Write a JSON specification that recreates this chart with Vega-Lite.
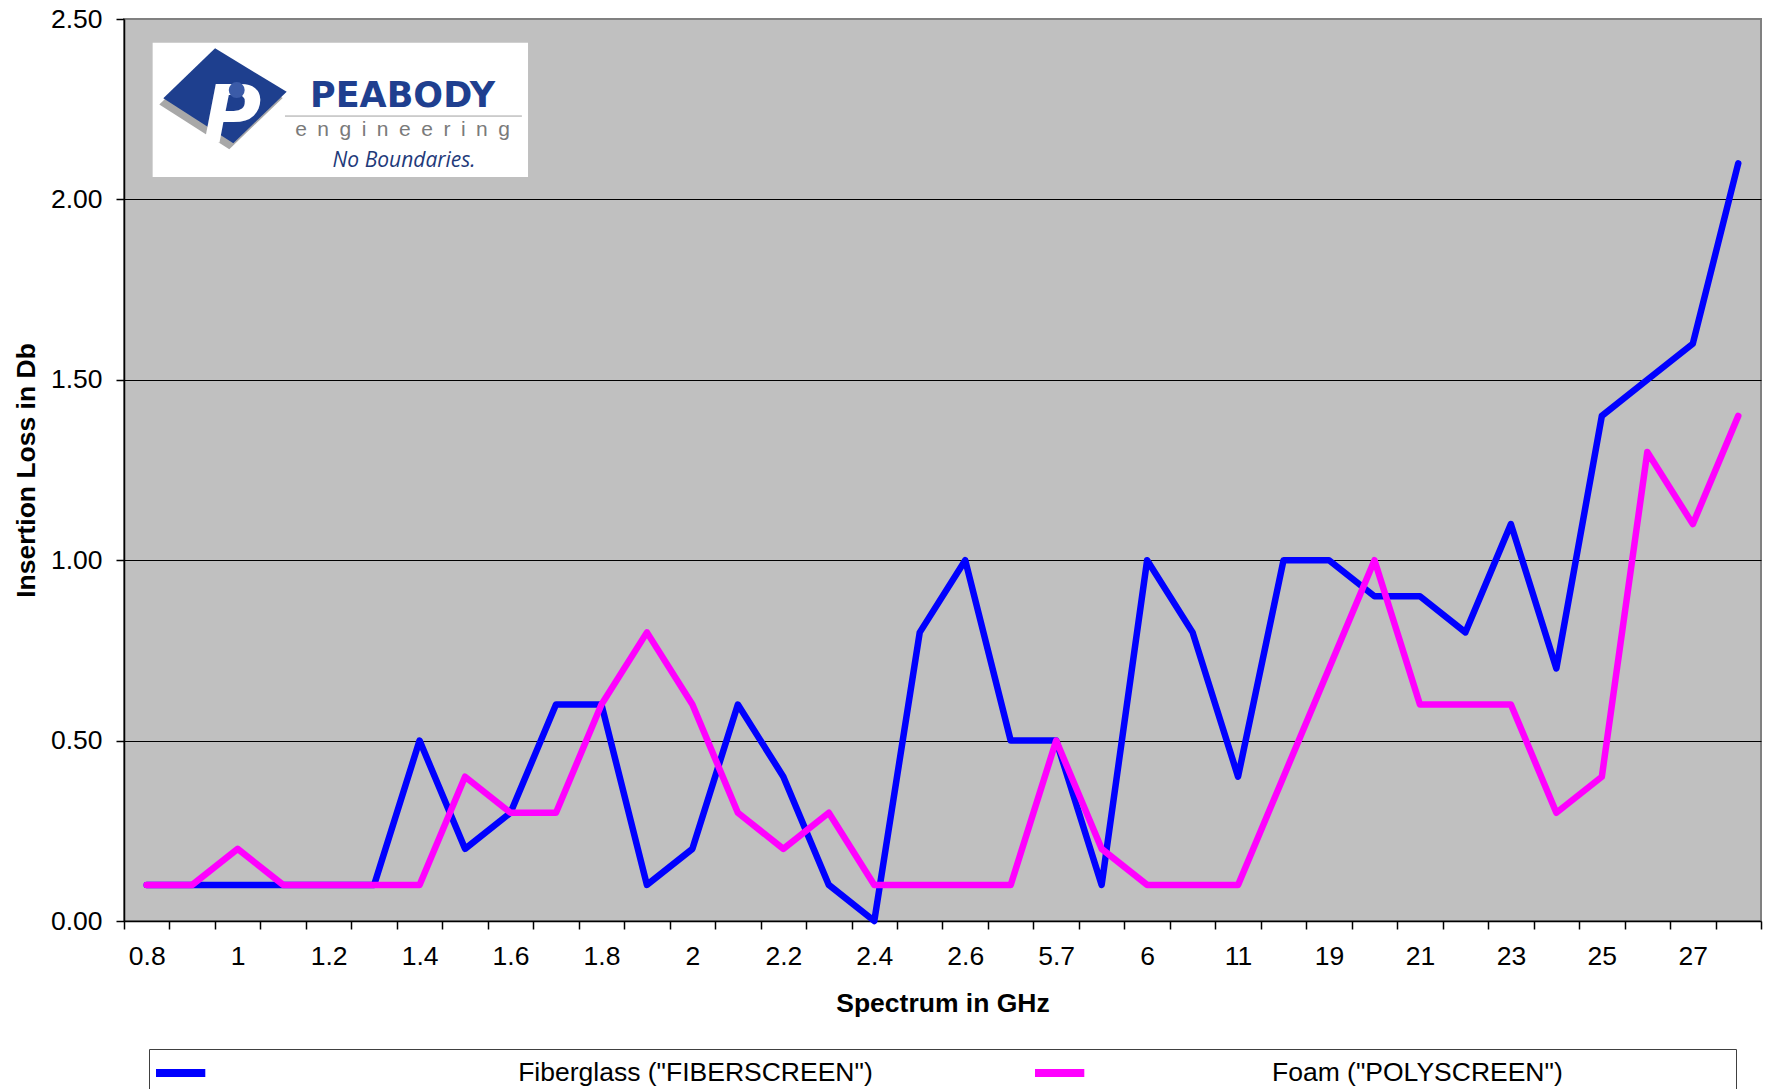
{
  "$schema": "https://vega.github.io/schema/vega-lite/v6.json",
  "width": 1637,
  "height": 902,
  "autosize": {"type": "none"},
  "padding": {"left": 124, "top": 19, "right": 8, "bottom": 168},
  "background": "white",
  "config": {
    "font": "Liberation Sans",
    "view": {"fill": "#C0C0C0", "stroke": "#808080", "strokeWidth": 2}
  },
  "resolve": {"scale": {"x": "independent"}},
  "layer": [
    {
      "data": {"values": [{}]},
      "mark": {"type": "rect", "fill": "white"},
      "encoding": {
        "x": {"datum": 0.63, "type": "quantitative", "scale": {"domain": [0, 36], "nice": false, "zero": false}, "axis": null},
        "x2": {"datum": 8.885},
        "y": {"datum": 2.434, "type": "quantitative"},
        "y2": {"datum": 2.062}
      }
    },
    {
      "data": {"values": [{}]},
      "mark": {"type": "point", "shape": "M -0.995 0.045 L -0.16 -0.76 L 0.995 -0.06 L 0.134 0.77 Z", "filled": true, "fill": "#A8A8A8", "opacity": 1, "strokeWidth": 0, "size": 15376},
      "encoding": {
        "x": {"datum": 2.133, "type": "quantitative", "scale": {"domain": [0, 36], "nice": false, "zero": false}, "axis": null},
        "y": {"datum": 2.271, "type": "quantitative"}
      }
    },
    {
      "data": {"values": [{}]},
      "mark": {"type": "point", "shape": "M -0.995 0.045 L -0.16 -0.76 L 0.995 -0.06 L 0.134 0.77 Z", "filled": true, "fill": "#1E3F8E", "opacity": 1, "strokeWidth": 0, "size": 15376},
      "encoding": {
        "x": {"datum": 2.221, "type": "quantitative", "scale": {"domain": [0, 36], "nice": false, "zero": false}, "axis": null},
        "y": {"datum": 2.288, "type": "quantitative"}
      }
    },
    {
      "data": {"values": [{}]},
      "mark": {"type": "text", "text": "P", "font": "DejaVu Sans", "fontWeight": "bold", "fontStyle": "italic", "fontSize": 80, "fill": "white", "align": "center", "baseline": "alphabetic"},
      "encoding": {
        "x": {"datum": 2.375, "type": "quantitative", "scale": {"domain": [0, 36], "nice": false, "zero": false}, "axis": null},
        "y": {"datum": 2.159, "type": "quantitative"}
      }
    },
    {
      "data": {"values": [{}]},
      "mark": {"type": "point", "shape": "circle", "filled": true, "fill": "#3B5BA8", "opacity": 1, "strokeWidth": 0, "size": 254},
      "encoding": {
        "x": {"datum": 2.479, "type": "quantitative", "scale": {"domain": [0, 36], "nice": false, "zero": false}, "axis": null},
        "y": {"datum": 2.303, "type": "quantitative"}
      }
    },
    {
      "data": {"values": [{}]},
      "mark": {"type": "text", "text": "PEABODY", "font": "DejaVu Sans", "fontWeight": "bold", "fontSize": 35, "fill": "#1F3F8F", "align": "center", "baseline": "alphabetic"},
      "encoding": {
        "x": {"datum": 6.125, "type": "quantitative", "scale": {"domain": [0, 36], "nice": false, "zero": false}, "axis": null},
        "y": {"datum": 2.257, "type": "quantitative"}
      }
    },
    {
      "data": {"values": [{}]},
      "mark": {"type": "rule", "stroke": "#A0A0A0", "strokeWidth": 1},
      "encoding": {
        "x": {"datum": 3.54, "type": "quantitative", "scale": {"domain": [0, 36], "nice": false, "zero": false}, "axis": null},
        "x2": {"datum": 8.75},
        "y": {"datum": 2.231, "type": "quantitative"}
      }
    },
    {
      "data": {"values": [{}]},
      "mark": {"type": "text", "text": "e\u2002n\u2002g\u2002i\u2002n\u2002e\u2002e\u2002r\u2002i\u2002n\u2002g", "fontSize": 21, "fill": "#7A7A7A", "align": "center", "baseline": "alphabetic"},
      "encoding": {
        "x": {"datum": 6.125, "type": "quantitative", "scale": {"domain": [0, 36], "nice": false, "zero": false}, "axis": null},
        "y": {"datum": 2.176, "type": "quantitative"}
      }
    },
    {
      "data": {"values": [{}]},
      "mark": {"type": "text", "text": "No Boundaries.", "font": "Open Sans", "fontStyle": "italic", "fontSize": 21, "fill": "#1F3A7A", "align": "center", "baseline": "alphabetic"},
      "encoding": {
        "x": {"datum": 6.16, "type": "quantitative", "scale": {"domain": [0, 36], "nice": false, "zero": false}, "axis": null},
        "y": {"datum": 2.09, "type": "quantitative"}
      }
    },
    {
      "data": {"values": [
        {"GHz": "0.8", "series": "Fiberglass (\"FIBERSCREEN\")", "loss": 0.1},
        {"GHz": "0.9", "series": "Fiberglass (\"FIBERSCREEN\")", "loss": 0.1},
        {"GHz": "1", "series": "Fiberglass (\"FIBERSCREEN\")", "loss": 0.1},
        {"GHz": "1.1", "series": "Fiberglass (\"FIBERSCREEN\")", "loss": 0.1},
        {"GHz": "1.2", "series": "Fiberglass (\"FIBERSCREEN\")", "loss": 0.1},
        {"GHz": "1.3", "series": "Fiberglass (\"FIBERSCREEN\")", "loss": 0.1},
        {"GHz": "1.4", "series": "Fiberglass (\"FIBERSCREEN\")", "loss": 0.5},
        {"GHz": "1.5", "series": "Fiberglass (\"FIBERSCREEN\")", "loss": 0.2},
        {"GHz": "1.6", "series": "Fiberglass (\"FIBERSCREEN\")", "loss": 0.3},
        {"GHz": "1.7", "series": "Fiberglass (\"FIBERSCREEN\")", "loss": 0.6},
        {"GHz": "1.8", "series": "Fiberglass (\"FIBERSCREEN\")", "loss": 0.6},
        {"GHz": "1.9", "series": "Fiberglass (\"FIBERSCREEN\")", "loss": 0.1},
        {"GHz": "2", "series": "Fiberglass (\"FIBERSCREEN\")", "loss": 0.2},
        {"GHz": "2.1", "series": "Fiberglass (\"FIBERSCREEN\")", "loss": 0.6},
        {"GHz": "2.2", "series": "Fiberglass (\"FIBERSCREEN\")", "loss": 0.4},
        {"GHz": "2.3", "series": "Fiberglass (\"FIBERSCREEN\")", "loss": 0.1},
        {"GHz": "2.4", "series": "Fiberglass (\"FIBERSCREEN\")", "loss": 0.0},
        {"GHz": "2.5", "series": "Fiberglass (\"FIBERSCREEN\")", "loss": 0.8},
        {"GHz": "2.6", "series": "Fiberglass (\"FIBERSCREEN\")", "loss": 1.0},
        {"GHz": "4.9", "series": "Fiberglass (\"FIBERSCREEN\")", "loss": 0.5},
        {"GHz": "5.7", "series": "Fiberglass (\"FIBERSCREEN\")", "loss": 0.5},
        {"GHz": "5.8", "series": "Fiberglass (\"FIBERSCREEN\")", "loss": 0.1},
        {"GHz": "6", "series": "Fiberglass (\"FIBERSCREEN\")", "loss": 1.0},
        {"GHz": "10", "series": "Fiberglass (\"FIBERSCREEN\")", "loss": 0.8},
        {"GHz": "11", "series": "Fiberglass (\"FIBERSCREEN\")", "loss": 0.4},
        {"GHz": "18", "series": "Fiberglass (\"FIBERSCREEN\")", "loss": 1.0},
        {"GHz": "19", "series": "Fiberglass (\"FIBERSCREEN\")", "loss": 1.0},
        {"GHz": "20", "series": "Fiberglass (\"FIBERSCREEN\")", "loss": 0.9},
        {"GHz": "21", "series": "Fiberglass (\"FIBERSCREEN\")", "loss": 0.9},
        {"GHz": "22", "series": "Fiberglass (\"FIBERSCREEN\")", "loss": 0.8},
        {"GHz": "23", "series": "Fiberglass (\"FIBERSCREEN\")", "loss": 1.1},
        {"GHz": "24", "series": "Fiberglass (\"FIBERSCREEN\")", "loss": 0.7},
        {"GHz": "25", "series": "Fiberglass (\"FIBERSCREEN\")", "loss": 1.4},
        {"GHz": "26", "series": "Fiberglass (\"FIBERSCREEN\")", "loss": 1.5},
        {"GHz": "27", "series": "Fiberglass (\"FIBERSCREEN\")", "loss": 1.6},
        {"GHz": "28", "series": "Fiberglass (\"FIBERSCREEN\")", "loss": 2.1},
        {"GHz": "0.8", "series": "Foam (\"POLYSCREEN\")", "loss": 0.1},
        {"GHz": "0.9", "series": "Foam (\"POLYSCREEN\")", "loss": 0.1},
        {"GHz": "1", "series": "Foam (\"POLYSCREEN\")", "loss": 0.2},
        {"GHz": "1.1", "series": "Foam (\"POLYSCREEN\")", "loss": 0.1},
        {"GHz": "1.2", "series": "Foam (\"POLYSCREEN\")", "loss": 0.1},
        {"GHz": "1.3", "series": "Foam (\"POLYSCREEN\")", "loss": 0.1},
        {"GHz": "1.4", "series": "Foam (\"POLYSCREEN\")", "loss": 0.1},
        {"GHz": "1.5", "series": "Foam (\"POLYSCREEN\")", "loss": 0.4},
        {"GHz": "1.6", "series": "Foam (\"POLYSCREEN\")", "loss": 0.3},
        {"GHz": "1.7", "series": "Foam (\"POLYSCREEN\")", "loss": 0.3},
        {"GHz": "1.8", "series": "Foam (\"POLYSCREEN\")", "loss": 0.6},
        {"GHz": "1.9", "series": "Foam (\"POLYSCREEN\")", "loss": 0.8},
        {"GHz": "2", "series": "Foam (\"POLYSCREEN\")", "loss": 0.6},
        {"GHz": "2.1", "series": "Foam (\"POLYSCREEN\")", "loss": 0.3},
        {"GHz": "2.2", "series": "Foam (\"POLYSCREEN\")", "loss": 0.2},
        {"GHz": "2.3", "series": "Foam (\"POLYSCREEN\")", "loss": 0.3},
        {"GHz": "2.4", "series": "Foam (\"POLYSCREEN\")", "loss": 0.1},
        {"GHz": "2.5", "series": "Foam (\"POLYSCREEN\")", "loss": 0.1},
        {"GHz": "2.6", "series": "Foam (\"POLYSCREEN\")", "loss": 0.1},
        {"GHz": "4.9", "series": "Foam (\"POLYSCREEN\")", "loss": 0.1},
        {"GHz": "5.7", "series": "Foam (\"POLYSCREEN\")", "loss": 0.5},
        {"GHz": "5.8", "series": "Foam (\"POLYSCREEN\")", "loss": 0.2},
        {"GHz": "6", "series": "Foam (\"POLYSCREEN\")", "loss": 0.1},
        {"GHz": "10", "series": "Foam (\"POLYSCREEN\")", "loss": 0.1},
        {"GHz": "11", "series": "Foam (\"POLYSCREEN\")", "loss": 0.1},
        {"GHz": "18", "series": "Foam (\"POLYSCREEN\")", "loss": 0.4},
        {"GHz": "19", "series": "Foam (\"POLYSCREEN\")", "loss": 0.7},
        {"GHz": "20", "series": "Foam (\"POLYSCREEN\")", "loss": 1.0},
        {"GHz": "21", "series": "Foam (\"POLYSCREEN\")", "loss": 0.6},
        {"GHz": "22", "series": "Foam (\"POLYSCREEN\")", "loss": 0.6},
        {"GHz": "23", "series": "Foam (\"POLYSCREEN\")", "loss": 0.6},
        {"GHz": "24", "series": "Foam (\"POLYSCREEN\")", "loss": 0.3},
        {"GHz": "25", "series": "Foam (\"POLYSCREEN\")", "loss": 0.4},
        {"GHz": "26", "series": "Foam (\"POLYSCREEN\")", "loss": 1.3},
        {"GHz": "27", "series": "Foam (\"POLYSCREEN\")", "loss": 1.1},
        {"GHz": "28", "series": "Foam (\"POLYSCREEN\")", "loss": 1.4}
      ]},
      "mark": {"type": "line", "strokeWidth": 6.5, "strokeCap": "round", "strokeJoin": "round"},
      "encoding": {
        "x": {
          "field": "GHz",
          "type": "ordinal",
          "sort": ["0.8","0.9","1","1.1","1.2","1.3","1.4","1.5","1.6","1.7","1.8","1.9","2","2.1","2.2","2.3","2.4","2.5","2.6","4.9","5.7","5.8","6","10","11","18","19","20","21","22","23","24","25","26","27","28"],
          "bandPosition": 0.5,
          "scale": {"type": "band", "paddingInner": 0, "paddingOuter": 0},
          "axis": {
            "title": "Spectrum in GHz",
            "tickBand": "extent",
            "labelExpr": "indexof(['0.8','1','1.2','1.4','1.6','1.8','2','2.2','2.4','2.6','5.7','6','11','19','21','23','25','27'], datum.label) >= 0 ? datum.label : ''",
            "labelAngle": 0,
            "labelOverlap": false,
            "labelFontSize": 26.5,
            "labelColor": "black",
            "labelPadding": 14,
            "tickSize": 8,
            "tickColor": "black",
            "tickWidth": 1.5,
            "domainColor": "black",
            "domainWidth": 1.5,
            "grid": false,
            "titleFontSize": 26.5,
            "titleFontWeight": "bold",
            "titleColor": "black",
            "titlePadding": 21
          }
        },
        "y": {
          "field": "loss",
          "type": "quantitative",
          "scale": {"domain": [0, 2.5], "nice": false, "zero": true},
          "axis": {
            "title": "Insertion Loss in Db",
            "values": [0, 0.5, 1, 1.5, 2, 2.5],
            "format": ".2f",
            "labelFontSize": 26.5,
            "labelColor": "black",
            "labelPadding": 14,
            "tickSize": 8,
            "tickColor": "black",
            "tickWidth": 1.5,
            "domainColor": "black",
            "domainWidth": 1.5,
            "grid": true,
            "gridColor": "black",
            "gridWidth": 1,
            "gridOpacity": {"condition": {"test": "datum.value >= 2.5 || datum.value <= 0", "value": 0}, "value": 1},
            "titleFontSize": 26.5,
            "titleFontWeight": "bold",
            "titleColor": "black",
            "titlePadding": 10
          }
        },
        "color": {
          "field": "series",
          "type": "nominal",
          "scale": {"domain": ["Fiberglass (\"FIBERSCREEN\")", "Foam (\"POLYSCREEN\")"], "range": ["#0000FF", "#FF00FF"]},
          "legend": {
            "orient": "none",
            "legendX": 25,
            "legendY": 1030,
            "direction": "horizontal",
            "title": null,
            "symbolType": "M -1 0 L 1.9 0",
            "symbolStrokeWidth": 8,
            "symbolSize": 1156,
            "labelFontSize": 26.5,
            "labelColor": "black",
            "labelOffset": 199,
            "columnPadding": 146,
            "padding": 3,
            "fillColor": "white",
            "strokeColor": "#404040",
            "labelLimit": 3000,
            "labelExpr": "indexof(datum.label, 'Foam') == 0 ? datum.label + '\u00a0\u00a0\u00a0\u00a0\u00a0\u00a0\u00a0\u00a0\u00a0\u00a0\u00a0\u00a0\u00a0\u00a0\u00a0\u00a0\u00a0\u00a0\u00a0\u00a0\u00a0\u00a0\u00a0\u200b' : '\u200b\u00a0\u00a0\u00a0\u00a0\u00a0\u00a0\u00a0\u00a0\u00a0\u00a0\u00a0\u00a0\u00a0\u00a0\u00a0\u00a0\u00a0' + datum.label"
          }
        }
      }
    }
  ]
}
